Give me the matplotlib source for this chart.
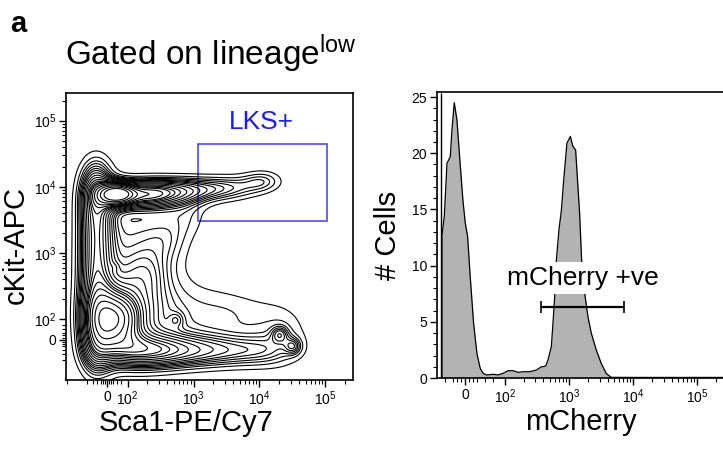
import numpy as np
import matplotlib
matplotlib.use('Agg')
import matplotlib.pyplot as plt
from matplotlib.patches import Rectangle

plt.rcParams['font.family'] = ['Liberation Sans', 'DejaVu Sans']
plt.rcParams['mathtext.fontset'] = 'custom'
plt.rcParams['mathtext.rm'] = 'Liberation Sans'
plt.rcParams['mathtext.it'] = 'Liberation Sans:italic'
plt.rcParams['mathtext.bf'] = 'Liberation Sans:bold'

# ---------------- data ----------------
# Left panel: cell populations (Sca1, cKit intensities; spreads in display decades)
sca1_centers = [-55, -55, -55, -55, -55, -55,          # Sca1-low column, sharp edge
                115, 115, 115,                          # Sca1-low column, soft side
                123, 389, 1230, 3890, 12300,            # cKit-low row, sharp edge
                245, 1549,                              # cKit-low row, soft side
                195, 617, 1950, 4898, 11480,            # cKit-high ridge to LKS
                195, 389, 776,                          # diagonal ridge
                48, 39, 550, 39, 20400, 32400, 22000, 4898]   # peaks
ckit_centers = [-48, 110, 347, 1096, 3467, 9772,
                97, 490, 2455,
                -55, -55, -55, -55, -55,
                110, 110,
                7762, 8710, 9333, 9772, 12300,
                490, 1549, 3890,
                7762, 97, 97, 617, 26, -32, 40, 123]
sca1_spread = [0.18, 0.18, 0.18, 0.18, 0.18, 0.18,
               0.45, 0.45, 0.45,
               0.35, 0.35, 0.35, 0.35, 0.35,
               0.45, 0.45,
               0.30, 0.30, 0.30, 0.30, 0.22,
               0.25, 0.25, 0.25,
               0.18, 0.25, 0.08, 0.05, 0.09, 0.09, 0.33, 0.40]
ckit_spread = [0.32, 0.32, 0.32, 0.32, 0.32, 0.32,
               0.50, 0.50, 0.50,
               0.18, 0.18, 0.18, 0.18, 0.18,
               0.40, 0.40,
               0.14, 0.14, 0.14, 0.14, 0.12,
               0.25, 0.25, 0.25,
               0.12, 0.30, 0.08, 0.05, 0.09, 0.09, 0.34, 0.25]
comp_weights = [0.8, 0.8, 0.8, 0.8, 0.8, 1.0,
                0.35, 0.35, 0.35,
                0.9, 0.75, 0.55, 0.45, 0.4,
                0.35, 0.25,
                1.5, 0.8, 0.5, 0.35, 0.45,
                0.3, 0.3, 0.3,
                2.5, 2.0, 0.25, 0.1, 0.45, 0.45, 0.32, 0.2]
contour_fractions = [0.05 * k for k in range(1, 20)]

lks_gate_sca1 = [1150, 107000]
lks_gate_ckit = [3000, 44000]

# Right panel: mCherry histogram
hist_mcherry = [-57.5, -57.5, -51.7, -45, -40.8, -36.7, -32.5, -26.7, -20, -13.3, -5, 0.8, 6.7, 13.3,
                21.7, 30, 38.3, 45.8, 54, 71, 83, 96, 112, 135, 161, 193, 245, 311, 372, 394, 434,
                471, 532, 564, 599, 637, 699, 762, 828, 931, 1052, 1154, 1271, 1466, 1577, 1755,
                1974, 2229, 2667, 3190, 3818, 4561, 10000, 262144]
hist_cells = [0, 12.7, 14.4, 19.1, 19.4, 19.7, 22.1, 24.5, 22.95, 19.7, 15.8, 13.8, 12.6, 9.0,
              4.9, 2.2, 0.86, 0.42, 0.27, 0.33, 0.27, 0.42, 0.65, 0.65, 0.5, 0.56, 0.56, 0.71, 1.0, 1.0, 1.07,
              1.6, 2.8, 4.9, 7.2, 10.5, 13.2, 14.9, 17.6, 20.9, 21.5, 20.6, 20.3, 14.7, 10.5, 7.6,
              5.5, 4.0, 2.5, 1.3, 0.4, 0.06, 0.05, 0.05]
offscale_mcherry = -61
offscale_cells = 25.4
gate_mcherry = [372, 7350]
gate_cells = 6.3

log_ticks = [0, 1e2, 1e3, 1e4, 1e5]
log_tick_labels = ['0', r'$10^2$', r'$10^3$', r'$10^4$', r'$10^5$']
count_ticks = [0, 5, 10, 15, 20, 25]
count_tick_labels = ['0', '5', '10', '15', '20', '25']

# ---------------- helpers ----------------
L = 100.0
LS_LEFT = 0.279   # symlog linscale for left panel
LS_RIGHT = 0.56   # symlog linscale for right panel


def fwd(x, ls):
    adj = ls / 0.9
    x = np.asarray(x, float)
    a = np.abs(x)
    return np.where(a <= L, x / L * adj, np.sign(x) * (adj + np.log10(np.maximum(a, 1e-9) / L)))


def inv(t, ls):
    adj = ls / 0.9
    t = np.asarray(t, float)
    return np.where(np.abs(t) <= adj, t / adj * L, np.sign(t) * L * 10 ** (np.abs(t) - adj))


def minor_list(lo, hi):
    m = []
    for k in range(2, 6):
        for f in range(2, 10):
            v = f * 10 ** k
            if lo < v < hi:
                m.append(v)
    for v in [10, 20, 30, 50, 70, -10, -20, -30, -50, -70, -100, -200]:
        if lo < v < hi:
            m.append(v)
    return m


fig = plt.figure(figsize=(7.23, 4.5), dpi=100)
W, H = 723.0, 450.0

# ---------------- left panel ----------------
ax1 = fig.add_axes([66 / W, 1 - 380 / H, 287 / W, 287 / H])
ax1.set_xscale('symlog', linthresh=L, linscale=LS_LEFT)
ax1.set_yscale('symlog', linthresh=L, linscale=LS_LEFT)
lo1, hi1 = -206, 262144
ylo1, yhi1 = -200, 262144

u = np.linspace(fwd(lo1, LS_LEFT), fwd(hi1, LS_LEFT), 440)
v = np.linspace(fwd(ylo1, LS_LEFT), fwd(yhi1, LS_LEFT), 440)
U, V = np.meshgrid(u, v)
Z = np.zeros_like(U)
for cx, cy, sx, sy, w in zip(sca1_centers, ckit_centers, sca1_spread, ckit_spread, comp_weights):
    cu = fwd(cx, LS_LEFT)
    cv = fwd(cy, LS_LEFT)
    Z += w * np.exp(-0.5 * ((U - cu) / sx) ** 2 - 0.5 * ((V - cv) / sy) ** 2)
zs = np.sort(Z.ravel())[::-1]
cs = np.cumsum(zs)
cs /= cs[-1]
levels = sorted(set(float(zs[np.searchsorted(cs, 1 - f)]) for f in contour_fractions))
X = inv(U, LS_LEFT)
Y = inv(V, LS_LEFT)
ax1.contour(X, Y, Z, levels=levels, colors='k', linewidths=0.8)

ax1.add_patch(Rectangle((lks_gate_sca1[0], lks_gate_ckit[0]),
                        lks_gate_sca1[1] - lks_gate_sca1[0], lks_gate_ckit[1] - lks_gate_ckit[0],
                        fill=False, edgecolor='#3a3aff', linewidth=1.1))
ax1.set_xlim(lo1, hi1)
ax1.set_ylim(ylo1, yhi1)
ax1.set_xticks(log_ticks)
ax1.set_xticklabels(log_tick_labels)
ax1.set_yticks(log_ticks)
ax1.set_yticklabels(log_tick_labels)
ax1.set_xticks(minor_list(lo1, hi1), minor=True)
ax1.set_yticks(minor_list(ylo1, yhi1), minor=True)

# ---------------- right panel ----------------
ax2 = fig.add_axes([437 / W, 1 - 378 / H, 287 / W, 286 / H])
ax2.set_xscale('symlog', linthresh=L, linscale=LS_RIGHT)
ax2.fill_between(hist_mcherry, hist_cells, 0, color='#b3b3b3', linewidth=0)
ax2.plot(hist_mcherry, hist_cells, color='k', linewidth=0.9)
ax2.vlines(offscale_mcherry, 0, offscale_cells, color='k', linewidth=1.0)
ax2.hlines(gate_cells, gate_mcherry[0], gate_mcherry[1], color='k', linewidth=1.6)
ax2.vlines(gate_mcherry, gate_cells - 0.55, gate_cells + 0.55, color='k', linewidth=1.2)
lo2, hi2 = -70, 262144
ax2.set_xlim(lo2, hi2)
ax2.set_ylim(0, 25.45)
ax2.set_xticks(log_ticks)
ax2.set_xticklabels(log_tick_labels)
ax2.set_xticks(minor_list(lo2, hi2), minor=True)
ax2.set_yticks(count_ticks)
ax2.set_yticklabels(count_tick_labels)
ax2.set_yticks([k for k in range(0, 26) if k % 5 != 0], minor=True)

for ax in (ax1, ax2):
    for s in ax.spines.values():
        s.set_linewidth(1.2)
    ax.tick_params(which='major', direction='out', length=5, width=1, labelsize=10, pad=2)
    ax.tick_params(which='minor', direction='out', length=3, width=0.8)

# ---------------- texts ----------------
fig.text(10 / W, 1 - 32 / H, 'a', fontsize=21, fontweight='bold', va='baseline', ha='left')
fig.text(65 / W, 1 - 65 / H, r'Gated on lineage$^{\mathregular{low}}$', fontsize=24, va='baseline', ha='left')
fig.text(261 / W, 1 - 122 / H, 'LKS+', fontsize=19, color='#1a1aff', ha='center', va='center')
fig.text(186 / W, 1 - 431 / H, 'Sca1-PE/Cy7', fontsize=21, ha='center', va='baseline')
fig.text(16 / W, 1 - 245 / H, 'cKit-APC', fontsize=21, rotation=90, ha='center', va='center')
fig.text(388 / W, 1 - 235 / H, '# Cells', fontsize=21, rotation=90, ha='center', va='center')
fig.text(581 / W, 1 - 430 / H, 'mCherry', fontsize=21, ha='center', va='baseline')
fig.text(583 / W, 1 - 278 / H, 'mCherry +ve', fontsize=19, ha='center', va='center',
         bbox=dict(facecolor='white', edgecolor='none', pad=3))

fig.savefig('out.png', dpi=100)
